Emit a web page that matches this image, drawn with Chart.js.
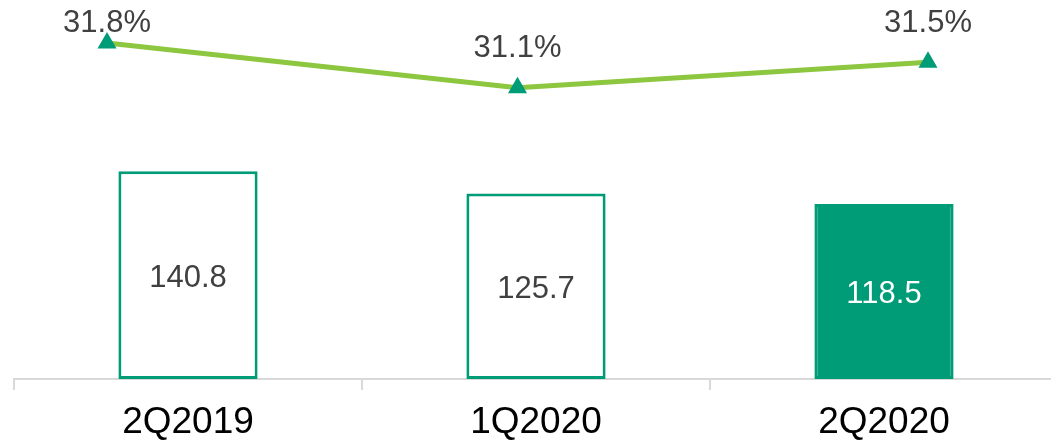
<!DOCTYPE html>
<html>
<head>
<meta charset="utf-8">
<script src="https://cdn.jsdelivr.net/npm/chart.js@4/dist/chart.umd.min.js"></script>
<style>
  html, body { margin: 0; padding: 0; background: #fff; overflow: hidden; }
  /* axis runs a few px past the right edge in the original */
  #wrap { width: 1069px; height: 440px; position: relative; }
</style>
</head>
<body>
<div id="wrap"><canvas id="chart"></canvas></div>
<script>
  const CATEGORIES = ["2Q2019", "1Q2020", "2Q2020"];
  const BAR_VALUES = [140.8, 125.7, 118.5];
  const RATIO_VALUES = [31.8, 31.1, 31.5];

  const GREEN = "#009B77";
  const LIME = "#8DC63F";
  const TEXT = "#404040";
  const FONT = "'Liberation Sans', Arial, sans-serif";

  // last bar is filled, the others are outlined
  const barFill = BAR_VALUES.map((v, i) => i === BAR_VALUES.length - 1 ? GREEN : "#ffffff");

  /* ---------- labels ---------- */

  const valueLabels = {
    id: "valueLabels",
    afterDatasetsDraw(chart) {
      const ctx = chart.ctx;
      ctx.save();
      ctx.font = "31px " + FONT;
      ctx.textAlign = "center";
      ctx.textBaseline = "middle";

      chart.getDatasetMeta(1).data.forEach((bar, i) => {
        ctx.fillStyle = i === BAR_VALUES.length - 1 ? "#ffffff" : TEXT;
        ctx.fillText(BAR_VALUES[i].toFixed(1), bar.x, (bar.y + bar.base) / 2 + 3);
      });

      chart.getDatasetMeta(0).data.forEach((pt, i) => {
        ctx.fillStyle = TEXT;
        const y = Math.max(pt.y - 39, 23);
        ctx.fillText(RATIO_VALUES[i].toFixed(1) + "%", pt.x, y);
      });
      ctx.restore();
    }
  };

  /* ---------- chart ---------- */

  new Chart(document.getElementById("chart"), {
    type: "bar",
    data: {
      labels: CATEGORIES,
      datasets: [
        {
          type: "line",
          data: RATIO_VALUES.map((v, i) => ({ x: i, y: v })),
          xAxisID: "xLine",
          yAxisID: "yLine",
          borderColor: LIME,
          borderWidth: 5,
          pointStyle: "triangle",
          pointRadius: 11,
          pointBackgroundColor: GREEN,
          pointBorderColor: GREEN,
          pointBorderWidth: 0,
          tension: 0,
          order: 0
        },
        {
          type: "bar",
          data: BAR_VALUES,
          xAxisID: "x",
          yAxisID: "y",
          backgroundColor: barFill,
          borderColor: GREEN,
          borderWidth: 3,
          borderSkipped: false,
          grouped: false,
          barPercentage: 0.4,
          categoryPercentage: 1,
          order: 1
        }
      ]
    },
    options: {
      responsive: true,
      maintainAspectRatio: false,
      animation: false,
      layout: { padding: { left: 14, right: 0, top: 10, bottom: 0 } },
      plugins: {
        legend: { display: false },
        tooltip: { enabled: false }
      },
      scales: {
        x: {
          type: "category",
          offset: true,
          afterFit(scale) { scale.height = 61; },
          border: { display: true, color: "#d9d9d9", width: 2 },
          grid: {
            offset: true,
            drawOnChartArea: false,
            drawTicks: true,
            tickLength: 11,
            color: "#d9d9d9",
            lineWidth: 2
          },
          ticks: {
            color: "#000000",
            padding: 11,
            font: { family: FONT, size: 37 }
          }
        },
        xLine: {
          type: "linear",
          display: false,
          offset: false,
          grace: 0,
          min: -0.2266,
          max: 2.3167
        },
        y: {
          display: false,
          min: 0,
          max: 249.3
        },
        yLine: {
          display: false,
          min: 26.559,
          max: 32.298
        }
      }
    },
    plugins: [valueLabels]
  });
</script>
</body>
</html>
